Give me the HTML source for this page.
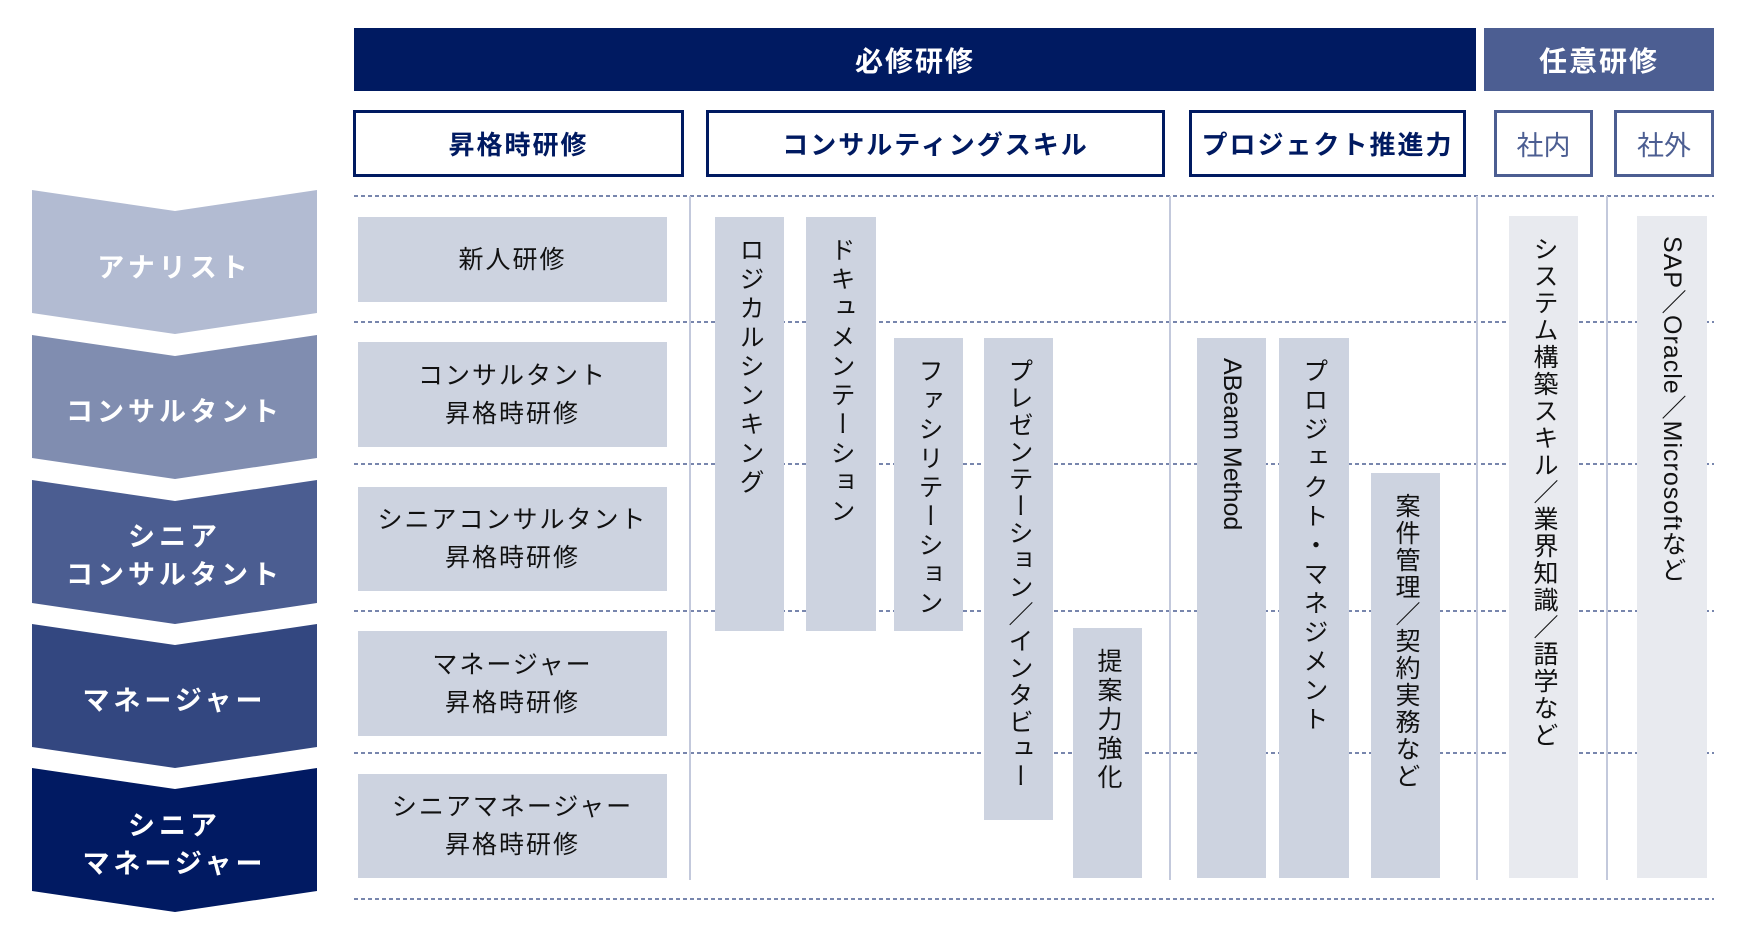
<!DOCTYPE html>
<html><head><meta charset="utf-8"><style>
body{margin:0;width:1738px;height:938px;background:#fff;position:relative;overflow:hidden;font-family:"Liberation Sans","Noto Sans CJK JP",sans-serif}
.a{position:absolute;box-sizing:border-box}
.hd{display:flex;align-items:center;justify-content:center;color:#fff;font-weight:bold;font-size:28px;letter-spacing:2px}
.sb{display:flex;align-items:center;justify-content:center;border:3px solid #001a61;color:#001a61;font-weight:bold;font-size:26px;letter-spacing:2px}
.sb2{display:flex;align-items:center;justify-content:center;border:3px solid #4c5e92;color:#4c5e92;font-size:27px}
.lb{background:#cdd3e0;display:flex;align-items:center;justify-content:center;text-align:center;font-size:25px;line-height:38px;color:#111;letter-spacing:2px}
.vb{background:#cdd3e0;writing-mode:vertical-rl;font-size:25px;letter-spacing:4px;color:#111;padding-top:20px;white-space:nowrap;overflow:hidden;text-align:left}
.vl{background:#e8eaef}
.ct{position:absolute;left:32px;width:285px;color:#fff;font-weight:bold;font-size:27px;letter-spacing:4px;text-align:center;line-height:38px}
.ln{position:absolute;width:2px;background:#c3c9dc;top:196px;height:684px}
</style></head><body>
<svg class="a" style="left:0;top:0" width="1738" height="938">
<g fill="none" stroke="#4c5e92" stroke-width="1.5" stroke-dasharray="4 3">
<line x1="354" y1="196" x2="1714" y2="196"/><line x1="354" y1="322" x2="1714" y2="322"/>
<line x1="354" y1="464" x2="1714" y2="464"/><line x1="354" y1="611" x2="1714" y2="611"/>
<line x1="354" y1="753" x2="1714" y2="753"/><line x1="354" y1="899" x2="1714" y2="899"/>
</g>
<polygon points="32,190 175,211 317,190 317,313 175,334 32,313" fill="#b2bbd2"/>
<polygon points="32,335 175,356 317,335 317,458 175,479 32,458" fill="#808db0"/>
<polygon points="32,480 175,501 317,480 317,603 175,624 32,603" fill="#4b5d91"/>
<polygon points="32,624 175,645 317,624 317,747 175,768 32,747" fill="#334780"/>
<polygon points="32,768 175,789 317,768 317,891 175,912 32,891" fill="#011a62"/>
</svg>
<div class="ct" style="top:249px">アナリスト</div>
<div class="ct" style="top:393px">コンサルタント</div>
<div class="ct" style="top:518px">シニア<br>コンサルタント</div>
<div class="ct" style="top:682px">マネージャー</div>
<div class="ct" style="top:807px">シニア<br>マネージャー</div>

<div class="a hd" style="left:354px;top:28px;width:1122px;height:63px;background:#001a61">必修研修</div>
<div class="a hd" style="left:1484px;top:28px;width:230px;height:63px;background:#4c5e92">任意研修</div>
<div class="a sb" style="left:353px;top:110px;width:331px;height:67px">昇格時研修</div>
<div class="a sb" style="left:706px;top:110px;width:459px;height:67px">コンサルティングスキル</div>
<div class="a sb" style="left:1189px;top:110px;width:277px;height:67px">プロジェクト推進力</div>
<div class="a sb2" style="left:1494px;top:110px;width:99px;height:67px">社内</div>
<div class="a sb2" style="left:1614px;top:110px;width:100px;height:67px">社外</div>

<div class="ln" style="left:689px"></div><div class="ln" style="left:1169px"></div>
<div class="ln" style="left:1476px"></div><div class="ln" style="left:1606px"></div>

<div class="a lb" style="left:358px;top:217px;width:309px;height:85px">新人研修</div>
<div class="a lb" style="left:358px;top:342px;width:309px;height:105px">コンサルタント<br>昇格時研修</div>
<div class="a lb" style="left:358px;top:487px;width:309px;height:104px">シニアコンサルタント<br>昇格時研修</div>
<div class="a lb" style="left:358px;top:631px;width:309px;height:105px">マネージャー<br>昇格時研修</div>
<div class="a lb" style="left:358px;top:774px;width:309px;height:104px">シニアマネージャー<br>昇格時研修</div>

<div class="a vb" style="left:715px;top:217px;width:69px;height:414px;line-height:69px">ロジカルシンキング</div>
<div class="a vb" style="left:806px;top:217px;width:70px;height:414px;line-height:70px">ドキュメンテーション</div>
<div class="a vb" style="left:894px;top:338px;width:69px;height:293px;line-height:69px">ファシリテーション</div>
<div class="a vb" style="left:984px;top:338px;width:69px;height:482px;line-height:69px;letter-spacing:2px">プレゼンテーション／インタビュー</div>
<div class="a vb" style="left:1073px;top:628px;width:69px;height:250px;line-height:69px">提案力強化</div>
<div class="a vb" style="left:1197px;top:338px;width:69px;height:540px;line-height:69px;letter-spacing:0">ABeam Method</div>
<div class="a vb" style="left:1279px;top:338px;width:70px;height:540px;line-height:70px">プロジェクト・マネジメント</div>
<div class="a vb" style="left:1371px;top:473px;width:69px;height:405px;line-height:69px;letter-spacing:2px">案件管理／契約実務など</div>
<div class="a vb vl" style="left:1509px;top:216px;width:69px;height:662px;line-height:69px;letter-spacing:2px">システム構築スキル／業界知識／語学など</div>
<div class="a vb vl" style="left:1637px;top:216px;width:70px;height:662px;line-height:70px;letter-spacing:1px">SAP／Oracle／Microsoftなど</div>
</body></html>
